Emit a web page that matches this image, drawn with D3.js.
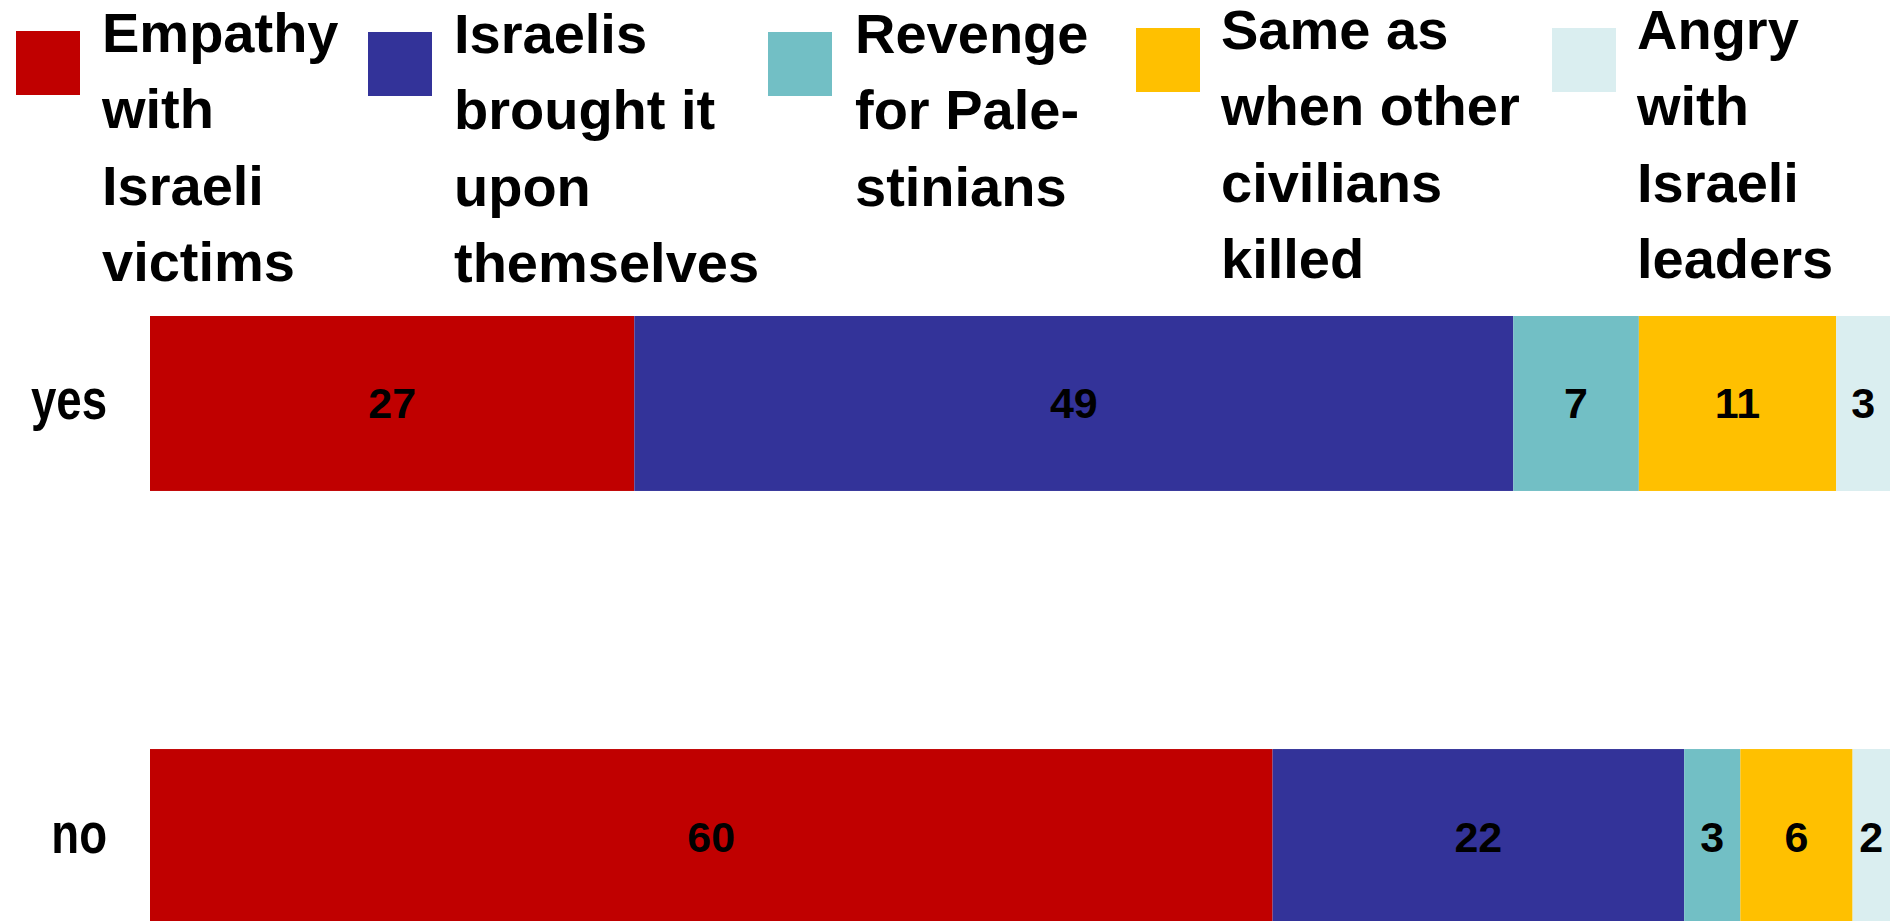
<!DOCTYPE html>
<html>
<head>
<meta charset="utf-8">
<script src="https://cdn.jsdelivr.net/npm/d3@7"></script>
<style>
  html, body { margin: 0; padding: 0; background: #fff; overflow: hidden; }
  svg { display: block; }
</style>
</head>
<body>
<svg id="chart" width="1895" height="921"></svg>
<script>
// ---- data ----
const categories = ["yes", "no"];
const seriesNames = [
  "Empathy with Israeli victims",
  "Israelis brought it upon themselves",
  "Revenge for Palestinians",
  "Same as when other civilians killed",
  "Angry with Israeli leaders"
];
const legendLines = [
  ["Empathy", "with", "Israeli", "victims"],
  ["Israelis", "brought it", "upon", "themselves"],
  ["Revenge", "for Pale-", "stinians"],
  ["Same as", "when other", "civilians", "killed"],
  ["Angry", "with", "Israeli", "leaders"]
];
const empathy  = [27, 60];
const brought  = [49, 22];
const revenge  = [7, 3];
const sameAs   = [11, 6];
const angry    = [3, 2];
const colors = ["#C00000", "#333399", "#72BFC5", "#FFC000", "#DAEEF0"];

// ---- layout ----
const legendSquareX = [16, 368, 768, 1136, 1552];
const legendTextX   = [102, 454, 855, 1221, 1637];
const legendDy      = [0, 1, 1, -3, -3];

const svg = d3.select("#chart");
const rows = categories.map((c, i) => ({
  cat: c,
  [seriesNames[0]]: empathy[i],
  [seriesNames[1]]: brought[i],
  [seriesNames[2]]: revenge[i],
  [seriesNames[3]]: sameAs[i],
  [seriesNames[4]]: angry[i]
}));

const stack = d3.stack().keys(seriesNames).offset(d3.stackOffsetExpand);
const stacked = stack(rows);

const x = d3.scaleLinear().domain([0, 1]).range([150, 1890]);
const y = d3.scaleBand().domain(categories).range([316, 924]).paddingInner(0.596).paddingOuter(0);
const color = d3.scaleOrdinal().domain(seriesNames).range(colors);

const layers = svg.append("g").selectAll("g")
  .data(stacked).join("g")
  .attr("fill", d => color(d.key));

layers.selectAll("rect")
  .data(d => d.map(v => ({ v, key: d.key })))
  .join("rect")
  .attr("x", d => x(d.v[0]))
  .attr("y", d => y(d.v.data.cat))
  .attr("width", d => x(d.v[1]) - x(d.v[0]))
  .attr("height", y.bandwidth());

// value labels
svg.append("g").selectAll("g")
  .data(stacked).join("g")
  .selectAll("text")
  .data(d => d.map(v => ({ v, key: d.key })))
  .join("text")
  .attr("x", d => (x(d.v[0]) + x(d.v[1])) / 2)
  .attr("y", d => y(d.v.data.cat) + y.bandwidth() / 2 + 15)
  .attr("text-anchor", "middle")
  .attr("font-family", "'Liberation Sans', Arial, sans-serif")
  .attr("font-weight", "bold")
  .attr("font-size", 43)
  .attr("fill", "#000")
  .text(d => d.v.data[d.key]);

// category axis labels
const yAxis = d3.axisLeft(y).tickSize(0).tickPadding(0);
const gy = svg.append("g").attr("transform", "translate(107,0)").call(yAxis);
gy.select(".domain").remove();
gy.selectAll(".tick").each(function() {
  const t = d3.select(this);
  const m = /translate\(([^,]+),([^)]+)\)/.exec(t.attr("transform"));
  t.attr("transform", `translate(0,${+m[2]})`);
  t.select("text")
    .attr("font-family", "'Liberation Sans', Arial, sans-serif")
    .attr("font-weight", "bold")
    .attr("font-size", 57)
    .attr("fill", "#000")
    .attr("dy", null)
    .attr("x", 0)
    .attr("y", 16)
    .attr("text-anchor", "end")
    .attr("transform", "scale(0.8,1)");
});

// legend
const lg = svg.append("g").selectAll("g")
  .data(seriesNames).join("g");
lg.append("rect")
  .attr("x", (d, i) => legendSquareX[i])
  .attr("y", (d, i) => 31 + legendDy[i])
  .attr("width", 64)
  .attr("height", 64)
  .attr("fill", d => color(d));
lg.each(function(d, i) {
  const t = d3.select(this).append("text")
    .attr("font-family", "'Liberation Sans', Arial, sans-serif")
    .attr("font-weight", "bold")
    .attr("font-size", 56)
    .attr("fill", "#000");
  legendLines[i].forEach((line, j) => {
    t.append("tspan")
      .attr("x", legendTextX[i])
      .attr("y", 52 + legendDy[i] + j * 76.3)
      .text(line);
  });
});
</script>
</body>
</html>
